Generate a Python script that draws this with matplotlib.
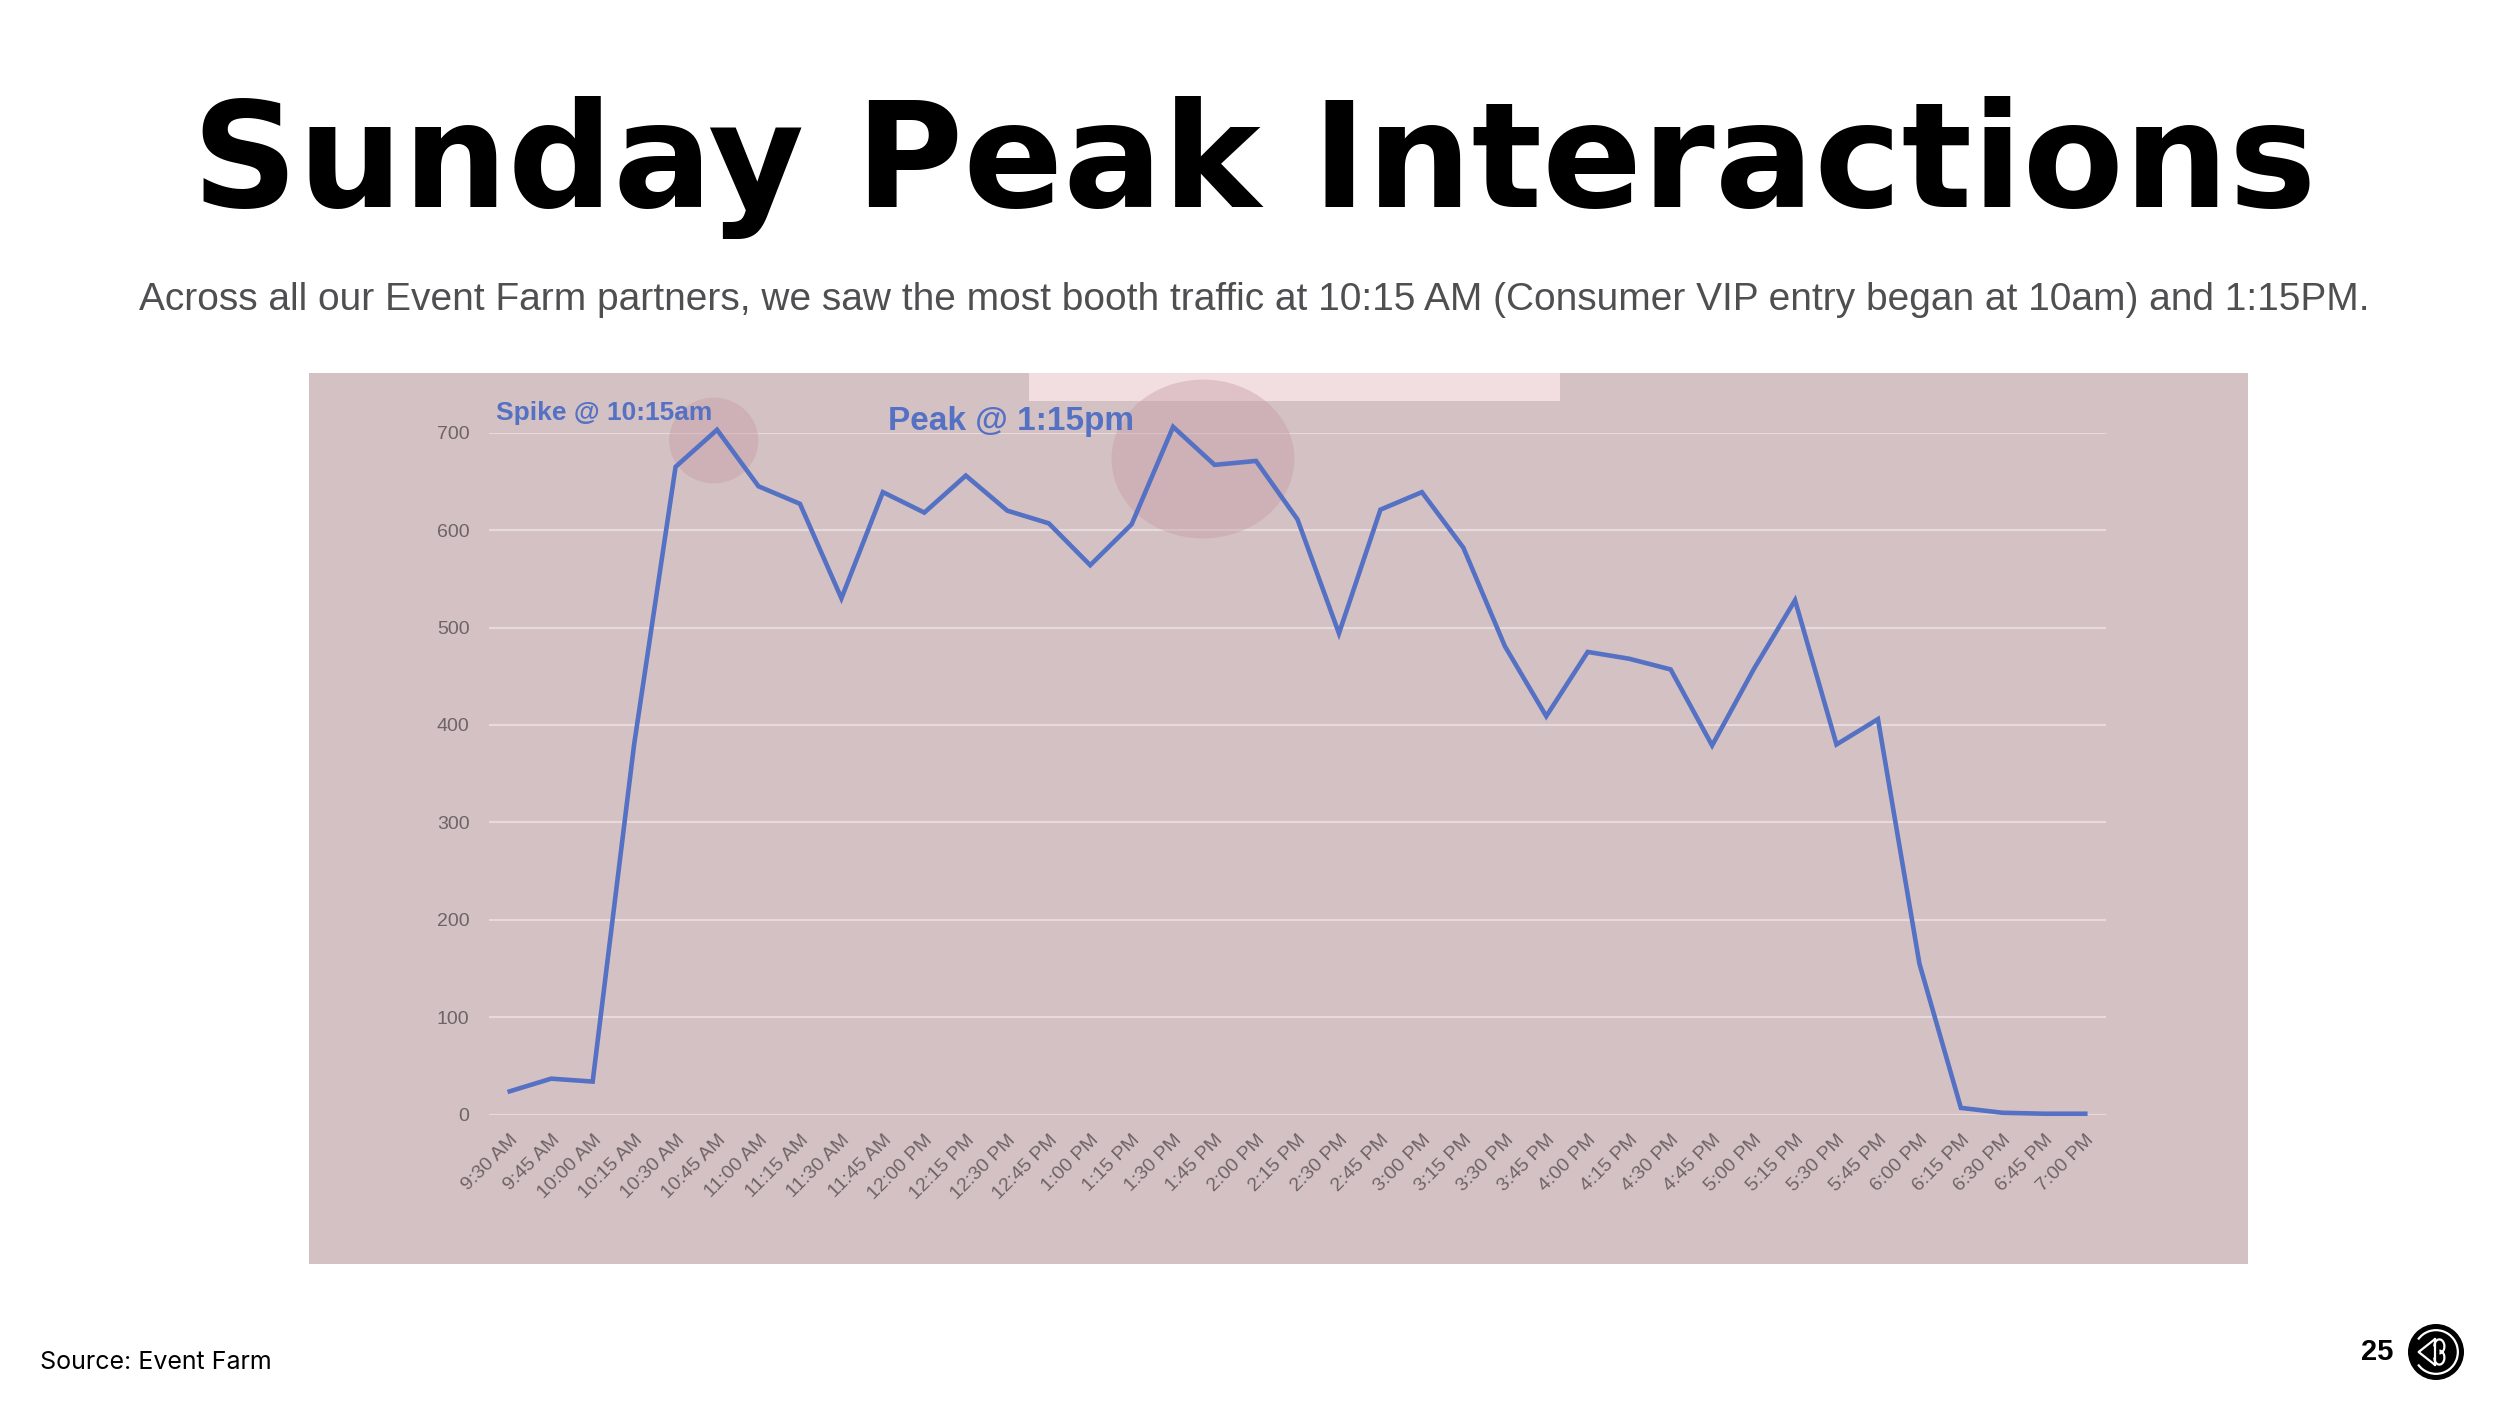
"""Sunday peak interactions - booth traffic line chart"""
import matplotlib
matplotlib.use('Agg')
import matplotlib.pyplot as plt
import matplotlib.patches as mpatches
from matplotlib.lines import Line2D

# ── data ──────────────────────────────────────────────
times = ['9:30 AM', '9:45 AM', '10:00 AM', '10:15 AM', '10:30 AM', '10:45 AM',
         '11:00 AM', '11:15 AM', '11:30 AM', '11:45 AM', '12:00 PM', '12:15 PM',
         '12:30 PM', '12:45 PM', '1:00 PM', '1:15 PM', '1:30 PM', '1:45 PM',
         '2:00 PM', '2:15 PM', '2:30 PM', '2:45 PM', '3:00 PM', '3:15 PM',
         '3:30 PM', '3:45 PM', '4:00 PM', '4:15 PM', '4:30 PM', '4:45 PM',
         '5:00 PM', '5:15 PM', '5:30 PM', '5:45 PM', '6:00 PM', '6:15 PM',
         '6:30 PM', '6:45 PM', '7:00 PM']
interactions = [24, 37, 34, 380, 665, 703, 645, 627, 530, 639, 618, 656,
                620, 607, 564, 606, 706, 667, 671, 611, 494, 621, 639, 582,
                481, 409, 475, 468, 457, 379, 457, 528, 380, 406, 155, 7,
                2, 1, 1]
y_ticks = [0, 100, 200, 300, 400, 500, 600, 700]

TITLE = 'Sunday Peak Interactions'
SUBTITLE = ('Across all our Event Farm partners, we saw the most booth traffic at '
            '10:15 AM (Consumer VIP entry began at 10am) and 1:15PM.')

BG = '#d4c1c3'
LINE = '#5571c4'
GRID = '#e6dadc'
TICK = '#6d6466'
NARROW = ['Liberation Sans Narrow', 'Liberation Sans', 'DejaVu Sans']

W, H = 2500, 1406
fig = plt.figure(figsize=(W / 100, H / 100), dpi=100)
fig.patch.set_facecolor('white')

def fx(px):
    return px / W

def fy(py):
    return 1 - py / H

# ── header ───────────────────────────────────────────
fig.text(0.5016, fy(207), TITLE, ha='center', va='baseline', fontsize=106,
         fontweight='heavy', family=['DejaVu Sans'], color='black')
fig.text(0.5016, fy(300), SUBTITLE, ha='center', va='center', fontsize=28,
         family=['Liberation Sans', 'DejaVu Sans'], color='#4f4f52')

# ── chart panel (pasted screenshot look) ─────────────
fig.patches.append(mpatches.Rectangle((fx(309), fy(1264)), fx(2248 - 309), (1264 - 373) / H,
                                      transform=fig.transFigure, facecolor=BG,
                                      edgecolor='none', zorder=-2))
fig.patches.append(mpatches.Rectangle((fx(1029), fy(401)), fx(1560 - 1029), 28 / H,
                                      transform=fig.transFigure, facecolor='#f2dee1',
                                      edgecolor='none', zorder=-1))

ax = fig.add_axes([fx(489), fy(1114.7), fx(2106 - 489), (1114.7 - 432.7) / H])
ax.set_facecolor('none')
x = list(range(len(times)))
ax.plot(x, interactions, color=LINE, lw=3.3, solid_joinstyle='miter', clip_on=False, zorder=3)
ax.set_xlim(-0.5, len(times) - 0.5)
ax.set_ylim(0, 700)
ax.set_yticks(y_ticks)
ax.set_yticklabels([str(v) for v in y_ticks], family=NARROW, fontsize=14, color=TICK)
ax.set_xticks(x)
ax.set_xticklabels(times, rotation=45, ha='right', va='top', rotation_mode='anchor',
                   family=NARROW, fontsize=14, color=TICK)
ax.tick_params(axis='both', length=0)
ax.tick_params(axis='y', pad=14)
ax.tick_params(axis='x', pad=12)
ax.grid(axis='y', color=GRID, lw=1.5, zorder=1)
ax.set_axisbelow(True)
for spine in ax.spines.values():
    spine.set_visible(False)

# highlight bubbles and callouts
ax.add_patch(mpatches.Ellipse((4.92, 692), 2.15, 88, facecolor='#c49aa3', alpha=0.4,
                              edgecolor='none', clip_on=False, zorder=2))
ax.add_patch(mpatches.Ellipse((16.72, 673), 4.41, 163, facecolor='#c49aa3', alpha=0.4,
                              edgecolor='none', clip_on=False, zorder=2))
ax.text(-0.32, 720, 'Spike @ 10:15am', ha='left', va='center', fontsize=19,
        fontweight='bold', family=NARROW, color=LINE, clip_on=False)
ax.text(9.12, 712, 'Peak @ 1:15pm', ha='left', va='center', fontsize=24,
        fontweight='bold', family=NARROW, color=LINE, clip_on=False)

# ── footer ───────────────────────────────────────────
fig.text(fx(40), fy(1369), 'Source: Event Farm', ha='left', va='baseline',
         fontsize=18, family=['Inter', 'DejaVu Sans'], color='black')
fig.text(fx(2393), fy(1352), '25', ha='right', va='center', fontsize=21,
         fontweight='bold', family=['Liberation Sans', 'DejaVu Sans'], color='black')

# small round logo
lax = fig.add_axes([fx(2408), fy(1380), fx(56), 56 / H])
lax.set_xlim(-1, 1)
lax.set_ylim(-1, 1)
lax.set_aspect('equal')
lax.axis('off')
lax.add_patch(mpatches.Circle((0, 0), 1.0, facecolor='black', edgecolor='none'))
lax.add_patch(mpatches.Arc((0, 0), 1.56, 1.56, theta1=-145, theta2=145, color='white', lw=1.6))
lax.add_line(Line2D([-0.05, -0.62, -0.05], [0.45, 0.0, -0.45], color='white', lw=1.6))
lax.add_line(Line2D([-0.05, -0.05], [0.45, -0.45], color='white', lw=1.6))
lax.add_patch(mpatches.Arc((0.12, 0.2), 0.36, 0.5, theta1=-90, theta2=180, color='white', lw=1.6))
lax.add_patch(mpatches.Arc((0.12, -0.2), 0.36, 0.5, theta1=-180, theta2=90, color='white', lw=1.6))

plt.savefig('out.png', dpi=100, facecolor=fig.get_facecolor())
